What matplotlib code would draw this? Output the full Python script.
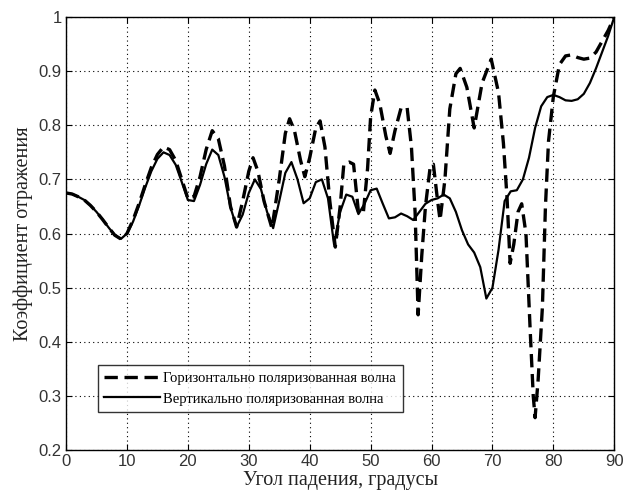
import matplotlib
matplotlib.use("Agg")
import matplotlib.pyplot as plt

# Vertical polarization (solid)
vert_x = list(range(0, 91))
vert_y = [0.675, 0.673, 0.668, 0.662, 0.652, 0.640, 0.626, 0.611, 0.597, 0.590,
          0.600, 0.622, 0.652, 0.685, 0.715, 0.738, 0.750, 0.745, 0.727, 0.695,
          0.662, 0.660, 0.690, 0.728, 0.755, 0.745, 0.705, 0.648, 0.612, 0.635,
          0.675, 0.700, 0.682, 0.640, 0.610, 0.660, 0.712, 0.732, 0.700, 0.656,
          0.665, 0.695, 0.700, 0.665, 0.580, 0.640, 0.672, 0.668, 0.636, 0.655,
          0.680, 0.683, 0.655, 0.628, 0.630, 0.637, 0.632, 0.625, 0.640, 0.655,
          0.662, 0.665, 0.672, 0.665, 0.640, 0.606, 0.580, 0.565, 0.538, 0.480,
          0.500, 0.570, 0.660, 0.678, 0.680, 0.700, 0.740, 0.795, 0.835, 0.852,
          0.856, 0.852, 0.846, 0.845, 0.848, 0.858, 0.878, 0.905, 0.935, 0.965,
          1.000]

# Horizontal polarization (dashed)
hor_x = [0, 1, 2, 3, 4, 5, 6, 7, 8, 9, 10, 11, 12, 13, 14, 15, 16, 17, 18, 19,
         20, 21, 22, 23, 24, 25, 26, 27, 28, 29, 30, 30.7, 31.5, 32.5, 33.8, 35,
         36, 36.7, 37.5, 38.5, 39.2, 40, 41, 41.7, 42.5, 43.3, 44.2, 45, 45.6,
         46.5, 47.2, 48, 48.8, 49.5, 50, 50.7, 51.5, 52.5, 53.2, 54, 55, 56,
         56.7, 57.3, 57.8, 58.4, 59.0, 59.8, 60.3, 61, 61.4, 62.2, 63, 64, 64.7,
         65.8, 67, 68.3, 69.8, 71, 71.8, 72.4, 72.9, 73.5, 74.2, 74.8, 75.5,
         76.2, 76.7, 77, 77.5, 78.2, 78.7, 79.2, 80, 81, 82, 83, 84, 85, 86, 87,
         88, 89, 90]
hor_y = [0.675, 0.673, 0.668, 0.662, 0.652, 0.640, 0.626, 0.611, 0.597, 0.590,
         0.600, 0.625, 0.656, 0.690, 0.722, 0.746, 0.760, 0.755, 0.735, 0.700,
         0.665, 0.668, 0.705, 0.755, 0.790, 0.775, 0.725, 0.650, 0.612, 0.660,
         0.715, 0.740, 0.715, 0.660, 0.610, 0.700,
         0.785, 0.812, 0.790, 0.735, 0.705, 0.740, 0.795, 0.808, 0.760, 0.660,
         0.575, 0.650, 0.728,
         0.732, 0.728, 0.640, 0.638, 0.720, 0.815, 0.865, 0.840, 0.780, 0.748,
         0.790, 0.832, 0.832,
         0.760, 0.640, 0.450, 0.560, 0.650, 0.725, 0.728, 0.660, 0.625, 0.700,
         0.830, 0.895, 0.905,
         0.870, 0.795, 0.878, 0.922, 0.860, 0.767, 0.665, 0.545, 0.580, 0.640,
         0.655, 0.600,
         0.420, 0.300, 0.260, 0.330, 0.464, 0.650, 0.770, 0.853, 0.912, 0.928,
         0.930, 0.925, 0.922, 0.924, 0.935,
         0.955, 0.975, 1.000]

x_ticks = [0, 10, 20, 30, 40, 50, 60, 70, 80, 90]
y_ticks = [0.2, 0.3, 0.4, 0.5, 0.6, 0.7, 0.8, 0.9, 1.0]
y_tick_labels = ["0.2", "0.3", "0.4", "0.5", "0.6", "0.7", "0.8", "0.9", "1"]

label_hor = "Горизонтально поляризованная волна"
label_vert = "Вертикально поляризованная волна"
xlabel = "Угол падения, градусы"
ylabel = "Коэффициент отражения"

fig = plt.figure(figsize=(6.23, 4.98), dpi=100)
ax = fig.add_axes([0.106, 0.096, 0.880, 0.870])

ax.plot(hor_x, hor_y, color="black", linewidth=2.4, linestyle=(0, (4, 2)),
        label=label_hor)
ax.plot(vert_x, vert_y, color="black", linewidth=1.6, linestyle="-",
        label=label_vert)

ax.set_xlim(0, 90)
ax.set_ylim(0.2, 1.0)
ax.set_xticks(x_ticks)
ax.set_yticks(y_ticks)
ax.set_yticklabels(y_tick_labels)
ax.grid(True, color="black", linestyle=(0, (1, 3)), linewidth=0.8)
ax.tick_params(direction="in", top=True, right=True, labelsize=12,
               length=4, width=0.8, pad=3)
for lab in ax.get_xticklabels() + ax.get_yticklabels():
    lab.set_family("Liberation Sans")
    lab.set_color("#333333")
for sp in ax.spines.values():
    sp.set_linewidth(1.0)

ax.set_xlabel(xlabel, family="Liberation Serif", fontsize=14.5, labelpad=1,
              color="#222222")
ax.set_ylabel(ylabel, family="Liberation Serif", fontsize=14.5, labelpad=4,
              color="#222222")

leg = ax.legend(loc="lower left", bbox_to_anchor=(0.058, 0.088),
                prop={"family": "Liberation Serif", "size": 10.5},
                frameon=True, fancybox=False, edgecolor="black",
                handlelength=3.8, borderpad=0.45, labelspacing=0.5,
                handletextpad=0.25, borderaxespad=0)
leg.get_frame().set_linewidth(1.0)

fig.savefig("out.png", dpi=100)
